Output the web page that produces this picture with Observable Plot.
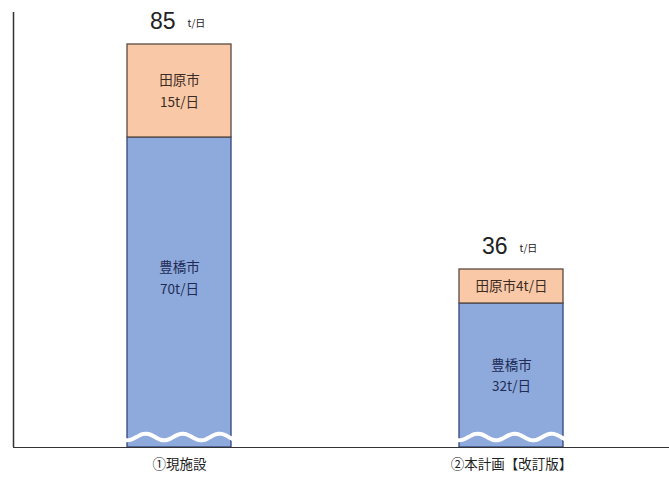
<!DOCTYPE html>
<html><head><meta charset="utf-8">
<script src="https://cdn.jsdelivr.net/npm/d3@7"></script>
<script src="https://cdn.jsdelivr.net/npm/@observablehq/plot@0.6"></script>
<style>body{margin:0;background:#fff}</style>
</head><body><div id="chart"></div>
<script>
const categories = ["①現施設", "②本計画【改訂版】"];
const cities = ["豊橋市", "田原市"];
const toyohashi = [70, 32];
const tahara = [15, 4];
const totals = [85, 36];
const segLabels = [["豊橋市\n70t/日", "田原市\n15t/日"], ["豊橋市\n32t/日", "田原市4t/日"]];

const rows = [];
categories.forEach((c, i) => {
  rows.push({cat: c, city: cities[0], value: toyohashi[i], label: segLabels[i][0]});
  rows.push({cat: c, city: cities[1], value: tahara[i], label: segLabels[i][1]});
});
const totalRows = categories.map((c, i) => ({cat: c, total: totals[i]}));

const font = "'Noto Sans CJK JP', 'Noto Sans', sans-serif";
const fill = {"豊橋市": "#8eaadc", "田原市": "#f9c9a7"};
const strokeC = {"豊橋市": "#34457a", "田原市": "#5a4a40"};
const textC = {"豊橋市": "#1e2b55", "田原市": "#3a2c24"};

// schematic broken axis: values are mapped piecewise before the linear scale
const brk = d3.scaleLinear().domain([0, 32, 36, 70, 85, 92]).range([0, 144, 178, 310, 403, 435]);

const plot = Plot.plot({
  width: 669, height: 477,
  marginLeft: 13, marginRight: 0, marginTop: 12, marginBottom: 30,
  style: {fontFamily: font, background: "#fff"},
  x: {domain: categories, paddingInner: 0.687, paddingOuter: 0.331, align: 0.52, label: null},
  y: {domain: [0, 435], transform: brk, axis: null},
  marks: [
    Plot.barY(rows, {x: "cat", y: "value", z: "city", fill: d => fill[d.city], stroke: d => strokeC[d.city], strokeWidth: 1.3}),
    Plot.text(rows, Plot.stackY({x: "cat", y: "value", z: "city", text: "label", fill: d => textC[d.city], fontSize: 13.5, lineHeight: 1.6, dy: -2})),
    Plot.text(totalRows, {x: "cat", y: "total", text: d => String(d.total), dy: -23, dx: -4, textAnchor: "end", fontSize: 23, fill: "#222", fontFamily: "'Liberation Sans', Arial, sans-serif"}),
    Plot.text(totalRows, {x: "cat", y: "total", text: () => "t/日", dy: -21, dx: 8, textAnchor: "start", fontSize: 10, fill: "#222"}),
    Plot.ruleY([0], {stroke: "#333", strokeWidth: 1.2}),
    Plot.axisX({tickSize: 0, tickPadding: 12, fontSize: 13.5, fill: "#222", label: null})
  ]
});
document.getElementById("chart").appendChild(plot);
const svg = d3.select(plot);
const xs = plot.scale("x");
const ys = plot.scale("y");
// left axis line
svg.append("line").attr("x1", 13.5).attr("x2", 13.5)
  .attr("y1", ys.apply(brk(92))).attr("y2", ys.apply(brk(0))).attr("stroke", "#333").attr("stroke-width", 1.5);
// break waves
categories.forEach(c => {
  const x0 = xs.apply(c) - 9, w = xs.bandwidth + 18;
  const yb = ys.apply(brk(0)) - 10;
  const n = 40, pts = [];
  for (let k = 0; k <= n; k++) {
    const t = k / n;
    pts.push([x0 + t * w, yb + 3.5 * Math.sin(t * Math.PI * 2 * 3.3)]);
  }
  svg.append("path").attr("d", d3.line().curve(d3.curveBasis)(pts))
    .attr("fill", "none").attr("stroke", "#fff").attr("stroke-width", 4).attr("stroke-linecap", "round");
});
</script>
</body></html>
